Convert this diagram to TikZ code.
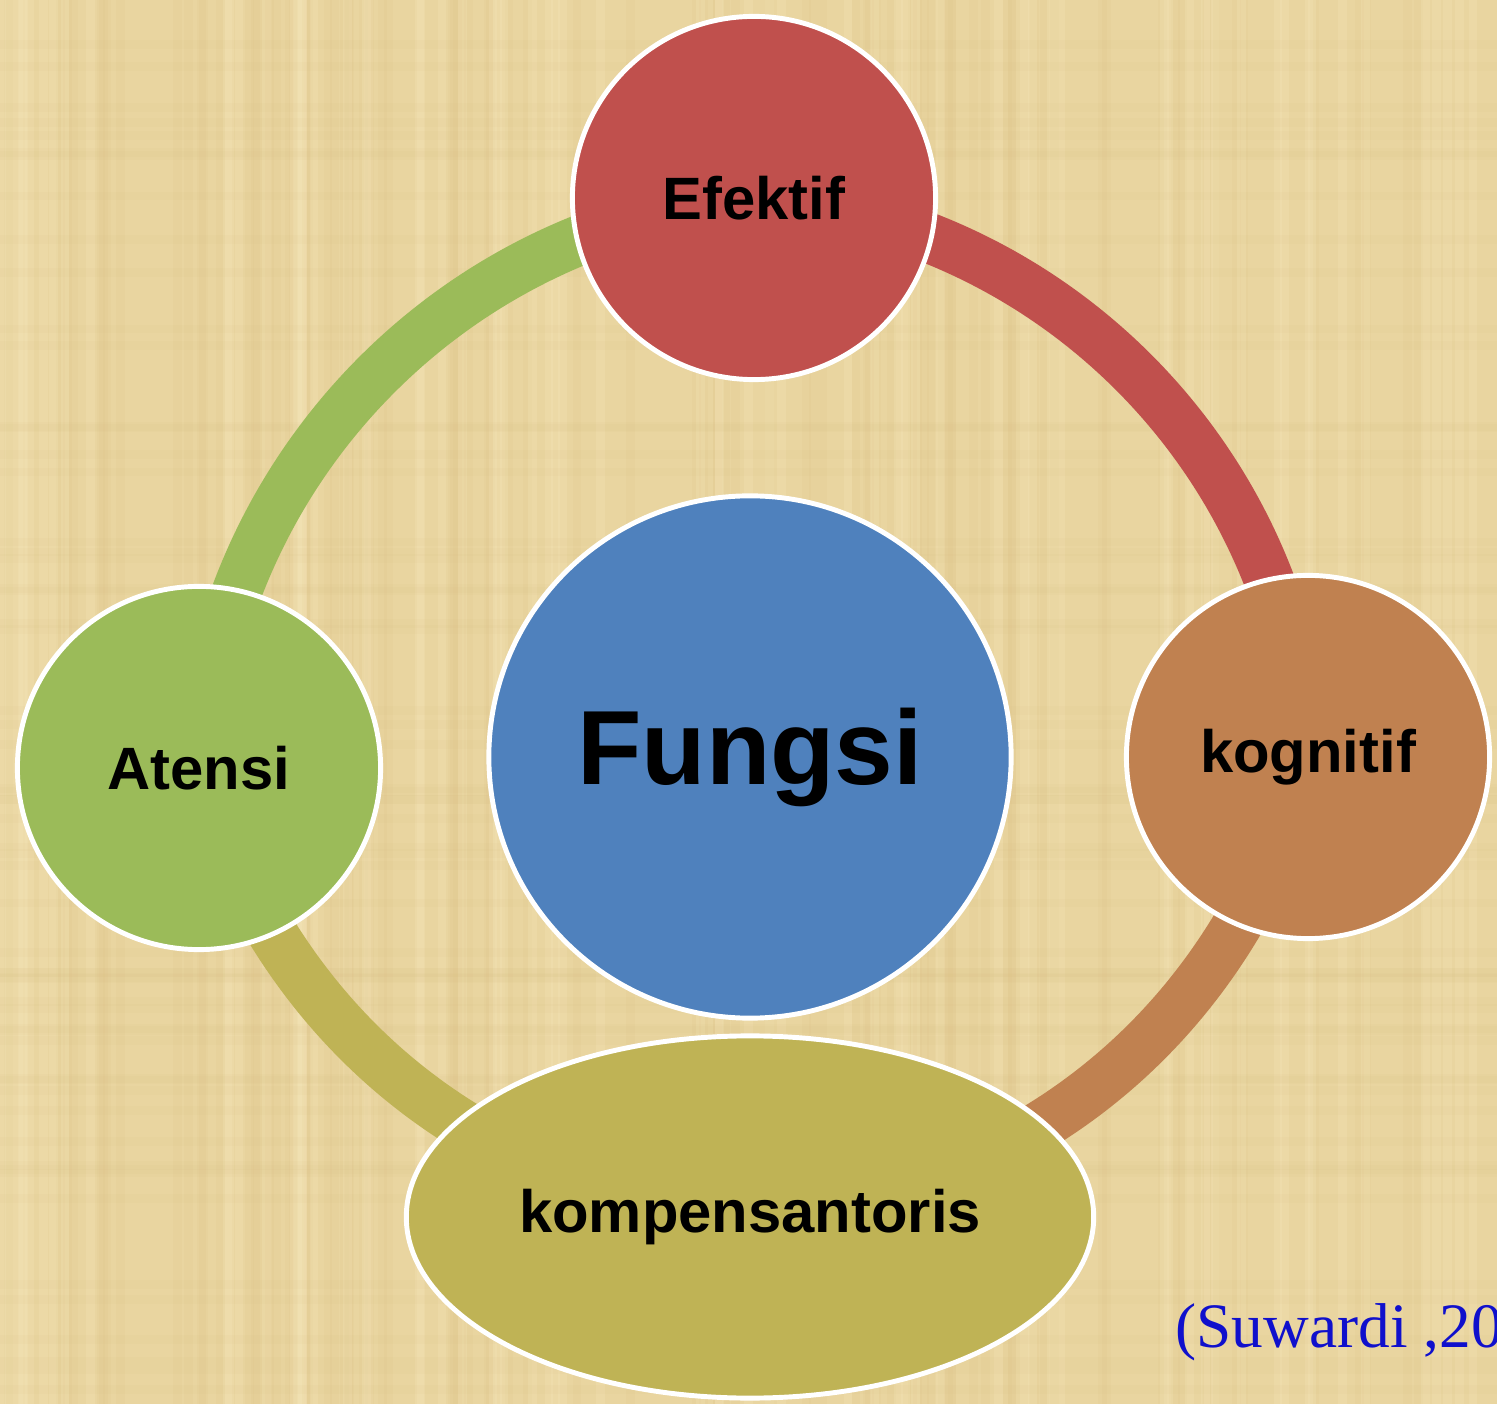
\documentclass[tikz,border=0pt]{standalone}
\usepackage{fontspec}
\setmainfont{Liberation Sans}
\newfontfamily\citefont{Liberation Serif}
\usetikzlibrary{shapes.geometric,backgrounds}
\definecolor{bgpaper}{HTML}{E9D5A0}
\definecolor{bgdark}{HTML}{D6BC7E}
\definecolor{bglight}{HTML}{F5E6BA}
\definecolor{cred}{HTML}{C0504D}
\definecolor{cgreen}{HTML}{9BBB59}
\definecolor{cblue}{HTML}{4F81BD}
\definecolor{cbrown}{HTML}{C08150}
\definecolor{colive}{HTML}{BFB355}
\definecolor{citeblue}{HTML}{1010CC}
\begin{document}
\begin{tikzpicture}[x=0.01cm,y=-0.01cm,
  bubble/.style={circle,draw=white,line width=1.4pt,minimum size=3.63cm,inner sep=0pt,
    font=\fontsize{17}{20}\selectfont\bfseries,text=black},
  ringarc/.style={line width=0.5cm},
  texv/.style={line width=2.5pt,opacity=0.10},
  ]
\useasboundingbox (0,0) rectangle (1497,1404);
\clip (0,0) rectangle (1497,1404);
\begin{pgfonlayer}{background}
  \fill[bgpaper] (0,0) rectangle (1497,1404);
  \pgfmathsetseed{11}
  \foreach \i in {1,...,90}{
    \pgfmathsetmacro\xx{rnd*1497}
    \draw[texv,draw=bgdark] (\xx,0) -- (\xx,1404);
  }
  \foreach \i in {1,...,70}{
    \pgfmathsetmacro\xx{rnd*1497}
    \draw[texv,draw=bglight,opacity=0.25] (\xx,0) -- (\xx,1404);
  }
  \foreach \i in {1,...,60}{
    \pgfmathsetmacro\yy{rnd*1404}
    \draw[texv,draw=bgdark,opacity=0.07] (0,\yy) -- (1497,\yy);
  }
\end{pgfonlayer}

\node[bubble,fill=cred] (efektif) at (754,198) {Efektif};
\node[bubble,fill=cgreen] (atensi) at (199,768) {Atensi};
\node[bubble,fill=cbrown] (kognitif) at (1308,757) {kognitif};
\node[circle,draw=white,line width=1.4pt,minimum size=5.22cm,inner sep=0pt,fill=cblue,
  font=\fontsize{30}{36}\selectfont\bfseries] (fungsi) at (750,757) {Fungsi};
\node[ellipse,draw=white,line width=1.4pt,minimum width=6.87cm,minimum height=3.62cm,inner sep=0pt,
  fill=colive,font=\fontsize{17}{20}\selectfont\bfseries] (kompen) at (750,1217) {kompensantoris};
\node[anchor=base west,inner sep=0pt,text=citeblue,font=\citefont\fontsize{18}{22}\selectfont]
  (cite) at (1175,1347) {(Suwardi ,20};

\begin{pgfonlayer}{background}
  \draw[ringarc,draw=cgreen] (atensi.center) to[bend left=40.6,looseness=0.97] (efektif.center);
  \draw[ringarc,draw=cred] (efektif.center) to[bend left=41,looseness=0.97] (kognitif.center);
  \draw[ringarc,draw=cbrown] (kognitif.center) to[bend left=35.2,looseness=0.98] (kompen.center);
  \draw[ringarc,draw=colive] (kompen.center) to[bend left=34.2,looseness=0.98] (atensi.center);
\end{pgfonlayer}
\end{tikzpicture}
\end{document}
